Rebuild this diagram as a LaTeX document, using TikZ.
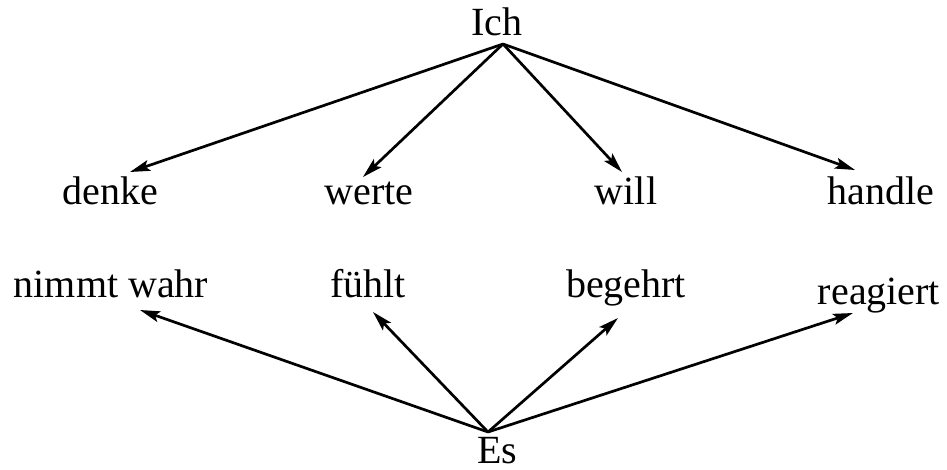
\documentclass[tikz,border=0pt]{standalone}
\usepackage{fontspec}
\setmainfont{Liberation Serif}
\usetikzlibrary{arrows.meta}
\begin{document}
\begin{tikzpicture}[x=1pt,y=-1pt,
  lbl/.style={inner sep=0pt,anchor=base,font=\fontsize{40}{44}\selectfont},
  arr/.style={line width=2.7pt,-{Stealth[length=20pt,width=11pt,inset=4pt]}}]
\useasboundingbox (0,0) rectangle (947,470);
\node[lbl] (ich) at (497,36) {Ich};
\node[lbl] (es) at (497,463) {Es};
\node[lbl] (denke) at (110,205) {denke};
\node[lbl] (werte) at (369,205) {werte};
\node[lbl] (will) at (626,205) {will};
\node[lbl] (handle) at (881,205) {handle};
\node[lbl] (nimmt) at (111,297) {nimmt wahr};
\node[lbl] (fuehlt) at (368,298) {fühlt};
\node[lbl] (begehrt) at (626,297) {begehrt};
\node[lbl] (reagiert) at (879,304) {reagiert};
\coordinate (ichA) at (503,44);
\coordinate (esA) at (488,432);
\coordinate (tDenke) at (130,172);
\coordinate (tWerte) at (363,177);
\coordinate (tWill) at (622,172);
\coordinate (tHandle) at (855,170);
\coordinate (tNimmt) at (140,310);
\coordinate (tFuehlt) at (373,312);
\coordinate (tBegehrt) at (618,318);
\coordinate (tReagiert) at (853,313);
\draw[arr] (ichA) -- (tDenke);
\draw[arr] (ichA) -- (tWerte);
\draw[arr] (ichA) -- (tWill);
\draw[arr] (ichA) -- (tHandle);
\draw[arr] (esA) -- (tNimmt);
\draw[arr] (esA) -- (tFuehlt);
\draw[arr] (esA) -- (tBegehrt);
\draw[arr] (esA) -- (tReagiert);
\end{tikzpicture}
\end{document}
